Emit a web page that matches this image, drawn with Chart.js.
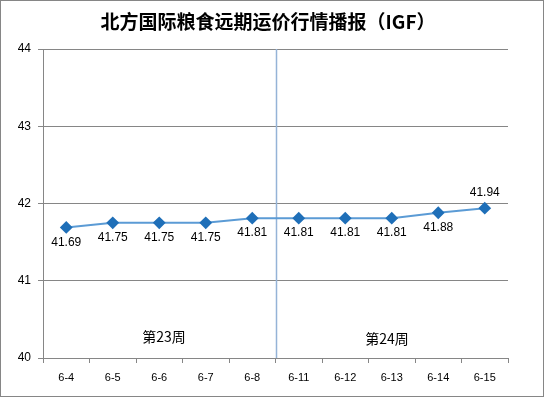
<!DOCTYPE html>
<html>
<head>
<meta charset="utf-8">
<script src="https://cdn.jsdelivr.net/npm/chart.js@4/dist/chart.umd.min.js"></script>
<style>
  html, body { margin: 0; padding: 0; background: #fff; }
  #wrap { width: 544px; height: 397px; position: relative; }
</style>
</head>
<body>
<div id="wrap"><canvas id="chart" width="544" height="397"></canvas></div>
<script>
// Data
const chartTitle = '北方国际粮食远期运价行情播报（IGF）';
const dates = ['6-4', '6-5', '6-6', '6-7', '6-8', '6-11', '6-12', '6-13', '6-14', '6-15'];
const prices = [41.69, 41.75, 41.75, 41.75, 41.81, 41.81, 41.81, 41.81, 41.88, 41.94];
const labelAbove = [false, false, false, false, false, false, false, false, false, true];
const weekNotes = ['第23周', '第24周'];
const weekNoteAt = [[2.1, 40.28], [6.9, 40.25]];   // [category index, value]
const weekSplit = 4.5;                              // between 6-8 and 6-11

const FONT = '"Liberation Sans", "Noto Sans CJK SC", sans-serif';

// Plugin: title, data labels, week split line, week notes, outer border
const extras = {
  id: 'extras',
  beforeDatasetsDraw(chart) {
    const { ctx, chartArea, scales } = chart;
    const x = scales.x.getPixelForDecimal((weekSplit + 0.5) / dates.length);
    ctx.save();
    ctx.strokeStyle = '#95b3d7';
    ctx.lineWidth = 1.5;
    ctx.beginPath();
    ctx.moveTo(Math.round(x) + 0.5, chartArea.top);
    ctx.lineTo(Math.round(x) + 0.5, chartArea.bottom);
    ctx.stroke();
    ctx.restore();
  },
  afterDatasetsDraw(chart) {
    const { ctx, scales } = chart;
    const meta = chart.getDatasetMeta(0);
    ctx.save();
    ctx.fillStyle = '#000';
    ctx.textAlign = 'center';
    ctx.textBaseline = 'middle';

    ctx.font = 'bold 19px "Noto Sans CJK SC", sans-serif';
    ctx.fillText(chartTitle, chart.width / 2 - 4, 22);

    ctx.font = '12px ' + FONT;
    meta.data.forEach((pt, i) => {
      const dy = labelAbove[i] ? -15 : 15;
      ctx.fillText(prices[i].toFixed(2), pt.x, pt.y + dy);
    });

    ctx.font = '14px "Noto Sans CJK SC", sans-serif';
    weekNotes.forEach((txt, i) => {
      const px = scales.x.getPixelForDecimal((weekNoteAt[i][0] + 0.5) / dates.length);
      const py = scales.y.getPixelForValue(weekNoteAt[i][1]);
      ctx.fillText(txt, px, py);
    });

    ctx.strokeStyle = '#868686';
    ctx.lineWidth = 1;
    ctx.strokeRect(0.5, 0.5, chart.width - 1, chart.height - 1);
    ctx.restore();
  }
};

new Chart(document.getElementById('chart'), {
  type: 'line',
  data: {
    labels: dates,
    datasets: [{
      data: prices,
      borderColor: '#5b9bd5',
      borderWidth: 2,
      pointStyle: 'rectRot',
      pointRadius: 5,
      pointBackgroundColor: '#1f6fb8',
      pointBorderColor: '#1f6fb8',
      tension: 0
    }]
  },
  options: {
    responsive: false,
    animation: false,
    layout: { padding: { left: 0, right: 36, top: 49, bottom: 0 } },
    plugins: {
      legend: { display: false },
      tooltip: { enabled: false },
      title: { display: false }
    },
    scales: {
      x: {
        offset: true,
        grid: { offset: true, drawOnChartArea: false, drawTicks: true, tickLength: 5, color: '#868686' },
        border: { color: '#868686' },
        ticks: { color: '#000', font: { family: FONT, size: 11 }, padding: 8, maxRotation: 0 },
        afterFit(scale) { scale.height = 39; }
      },
      y: {
        min: 40,
        max: 44,
        ticks: { stepSize: 1, color: '#000', font: { family: FONT, size: 12 }, padding: 7 },
        grid: { color: '#868686', tickLength: 5 },
        border: { color: '#868686' },
        afterFit(scale) { scale.width = 43; }
      }
    }
  },
  plugins: [extras]
});
</script>
</body>
</html>
